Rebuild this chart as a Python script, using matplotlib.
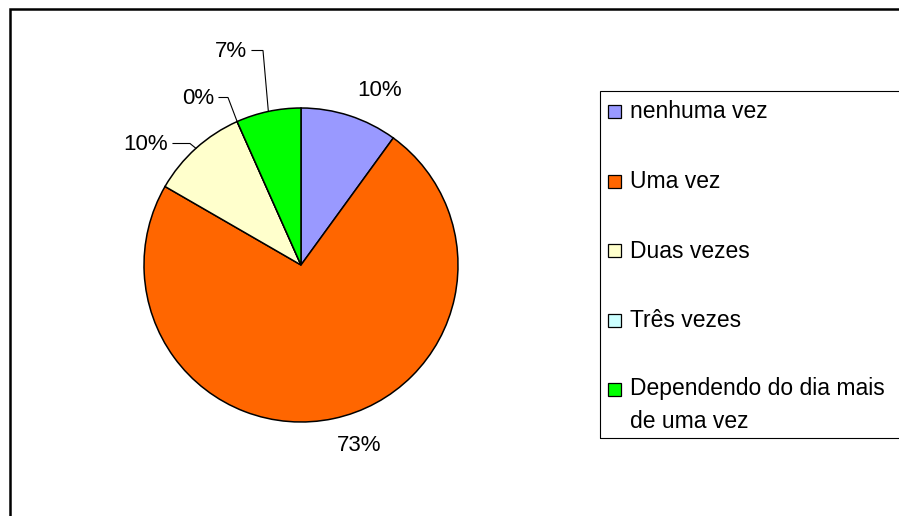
import math
import matplotlib
matplotlib.use("Agg")
import matplotlib.pyplot as plt
from matplotlib.patches import Rectangle

plt.rcParams['font.family'] = ['Liberation Sans', 'DejaVu Sans']

# data
categories = ['nenhuma vez', 'Uma vez', 'Duas vezes', 'Três vezes',
              'Dependendo do dia mais\nde uma vez']
counts = [3, 22, 3, 0, 2]
pct_labels = ['10%', '73%', '10%', '0%', '7%']
colors = ['#9999FF', '#FF6600', '#FFFFCC', '#CCFFFF', '#00FF00']

W, H = 899, 516
fig = plt.figure(figsize=(W / 100, H / 100), dpi=100)
ax = fig.add_axes([0, 0, 1, 1])

cx, cy, r = 301, H - 265, 157
wedges, _ = ax.pie(counts, colors=colors, startangle=90, counterclock=False,
                   center=(cx, cy), radius=r,
                   wedgeprops=dict(edgecolor='black', linewidth=1.1))
ax.set_xlim(0, W)
ax.set_ylim(0, H)
ax.axis('off')

# percentage labels (pixel layout: right edge x, baseline y, elbow x or None)
label_pos = [(402, 96, None), (381, 451, None), (168, 150, 190),
             (214, 104, 228), (247, 57, 263)]
for w, lab, (x, yb, elbow) in zip(wedges, pct_labels, label_pos):
    ax.text(x, H - yb, lab, ha='right', va='baseline', fontsize=16)
    if elbow is not None:
        ang = math.radians((w.theta1 + w.theta2) / 2)
        axp = cx + r * math.cos(ang)
        ayp = cy + r * math.sin(ang)
        ly = H - (yb - 6.5)
        ax.plot([x + 5, elbow, axp], [ly, ly, ayp], color='black', lw=0.8,
                solid_joinstyle='miter')

# outer frame
ax.add_patch(Rectangle((10, -20), 1000, H - 9 + 20, fill=False,
                       edgecolor='black', linewidth=1.8, clip_on=False))

# legend
ax.add_patch(Rectangle((600, H - 438), 400, 347, fill=False,
                       edgecolor='black', linewidth=0.8, clip_on=False))
baselines = [118.5, 188, 257.5, 327, 396]
line_gap = 32
for lab, col, yb in zip(categories, colors, baselines):
    ax.add_patch(Rectangle((608, H - yb + 0.5), 13, 13, facecolor=col,
                           edgecolor='black', linewidth=0.9))
    extra = lab.count('\n') * line_gap
    ax.text(630, H - yb - extra, lab, ha='left', va='baseline',
            fontsize=16.5, linespacing=1.55)

fig.savefig('out.png', dpi=100)
